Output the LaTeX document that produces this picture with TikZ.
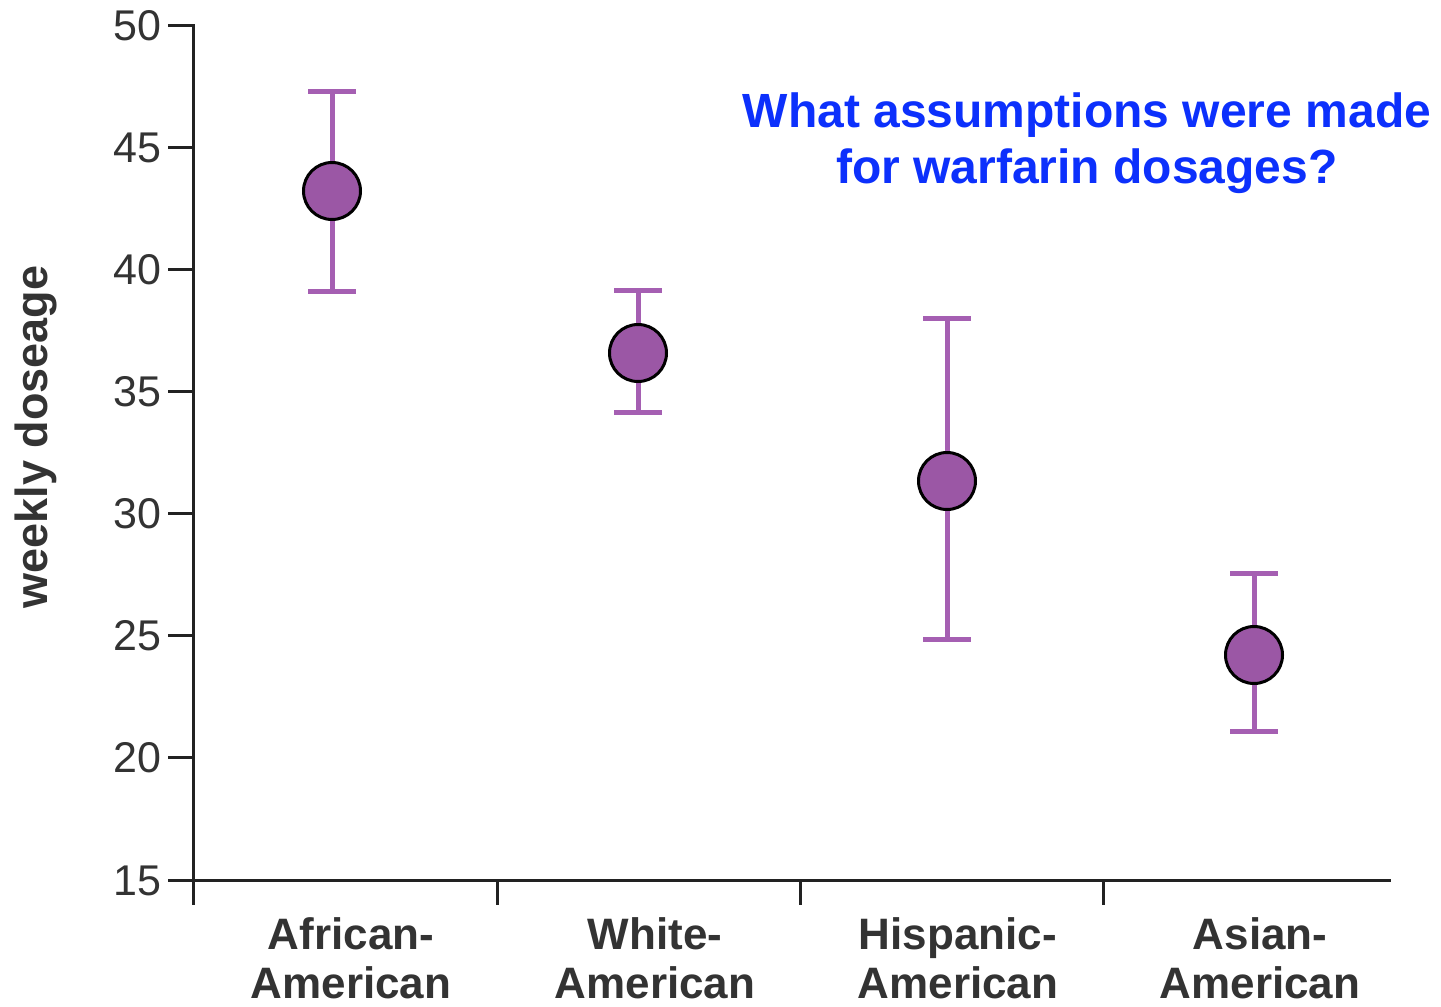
\documentclass[tikz,border=0pt]{standalone}
\usepackage{fontspec}
\setmainfont{Liberation Sans}
\definecolor{axisc}{HTML}{222222}
\definecolor{textc}{HTML}{333333}
\definecolor{ptfill}{RGB}{155,87,165}
\definecolor{barc}{RGB}{165,95,178}
\definecolor{titlec}{RGB}{12,48,252}
\begin{document}
\begin{tikzpicture}[x=1pt,y=-1pt,
  axisline/.style={draw=axisc,line width=3pt},
  ticklab/.style={anchor=base east,text=textc,font=\fontsize{43}{46}\selectfont,inner sep=0pt},
  catlab/.style={anchor=base,text=textc,font=\bfseries\fontsize{44}{51}\selectfont,inner sep=0pt,align=center},
  errbar/.style={draw=barc,line width=5pt},
  datapt/.style={circle,draw=black,line width=3pt,fill=ptfill,minimum size=57pt,inner sep=0pt},
  titletext/.style={text=titlec,font=\bfseries\fontsize{48}{56}\selectfont,align=center,inner sep=0pt}]
\useasboundingbox (0,0) rectangle (1441,1007);
\fill[white] (0,0) rectangle (1441,1007);
% axes
\coordinate (yTop) at (193,24);
\coordinate (yBot) at (193,905);
\coordinate (xL) at (168,880);
\coordinate (xR) at (1391,880);
\draw[axisline] (yTop) -- (yBot);
\draw[axisline] (xL) -- (xR);
% y ticks
\foreach \v/\yy in {50/25,45/147,40/269,35/391,30/513,25/635,20/757,15/880}{
  \coordinate (t\v) at (168,\yy);
  \draw[axisline] (t\v) -- ++(25,0);
  \node[ticklab] (l\v) at (162,\yy+15) {\v};
}
% x ticks
\foreach \xx [count=\i] in {497,800,1103}{
  \coordinate (xt\i) at (\xx,880);
  \draw[axisline] (xt\i) -- ++(0,25);
}
% category labels
\node[catlab] (cA1) at (351,949) {African-};
\node[catlab] (cA2) at (351,998) {American};
\node[catlab] (cW1) at (655,949) {White-};
\node[catlab] (cW2) at (655,998) {American};
\node[catlab] (cH1) at (958,949) {Hispanic-};
\node[catlab] (cH2) at (958,998) {American};
\node[catlab] (cS1) at (1260,949) {Asian-};
\node[catlab] (cS2) at (1260,998) {American};
% y label
\node[rotate=90,text=textc,font=\bfseries\fontsize{45}{50}\selectfont,inner sep=0pt] (ylab) at (36,437) {weekly doseage};
% title
\node[titletext,anchor=base] (ti1) at (1087,127) {What assumptions were made};
\node[titletext,anchor=base] (ti2) at (1087,183) {for warfarin dosages?};
% error bars and points
\foreach \nm/\xx/\yt/\ym/\yb in {A/332/91/191/291, W/638/290/353/412, H/947/318/481/639, S/1254/573/655/731}{
  \coordinate (\nm top) at (\xx,\yt);
  \coordinate (\nm bot) at (\xx,\yb);
  \draw[errbar] (\nm top) -- (\nm bot);
  \draw[errbar] ([xshift=-24pt]\nm top) -- ([xshift=24pt]\nm top);
  \draw[errbar] ([xshift=-24pt]\nm bot) -- ([xshift=24pt]\nm bot);
  \node[datapt] (\nm pt) at (\xx,\ym) {};
}
\end{tikzpicture}
\end{document}
